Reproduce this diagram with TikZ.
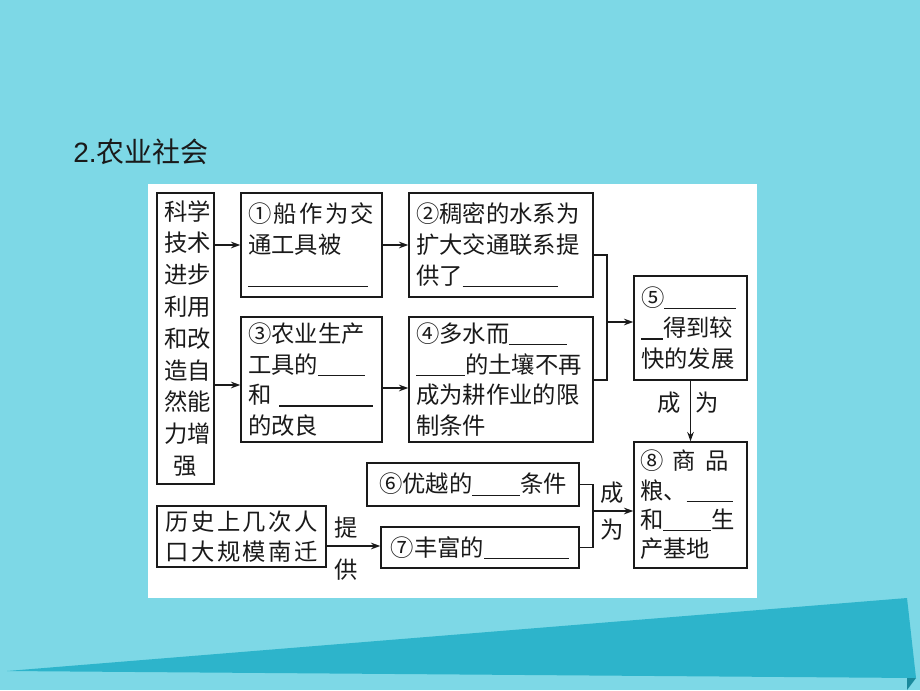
\documentclass[tikz,border=0pt]{standalone}
\usepackage{fontspec}
\setmainfont{Noto Sans CJK SC}
\newfontfamily\titlefont{Liberation Sans}
\usetikzlibrary{arrows.meta}
\newdimen\pxu \pxu=0.75pt
\newcommand{\bl}[1]{\rule[-0.12em]{#1\pxu}{0.9pt}}
\definecolor{bgcyan}{HTML}{7DD8E6}
\definecolor{teal1}{HTML}{2DB4CB}
\definecolor{teal2}{HTML}{1A8A9C}
\definecolor{ink}{HTML}{1A1A1A}
\tikzset{
  bx/.style={draw=ink, line width=1.1pt, inner xsep=7\pxu, inner ysep=0pt, align=left,
    font=\fontsize{17.5}{23}\selectfont, text=ink},
  lbl/.style={font=\fontsize{17.5}{23}\selectfont, text=ink, inner sep=0pt},
  arr/.style={draw=ink, line width=1pt, -{Stealth[length=7pt,width=5pt]}},
  ln/.style={draw=ink, line width=1pt}
}
\begin{document}
\begin{tikzpicture}[x=0.75pt, y=-0.75pt]
\useasboundingbox (0,0) rectangle (920,690);
\fill[bgcyan] (0,0) rectangle (920,690);
\fill[teal1] (7,671) -- (907,598) -- (916,678) -- cycle;
\fill[teal2] (907,678) -- (916,678) -- (907,690) -- cycle;
\node[anchor=west, inner sep=0pt, text=ink, font=\fontsize{21}{24}\selectfont] (title) at (73,152) {{\titlefont 2.}农业社会};
\fill[white] (148,184) rectangle (757,598);
% boxes
\node[bx, align=center, font=\fontsize{17.5}{23.85}\selectfont, minimum width=57\pxu, minimum height=291\pxu, text width=43\pxu] (L) at (185.5,338.5)
 {科学\\技术\\进步\\利用\\和改\\造自\\然能\\力增\\强};
\node[bx, minimum width=141\pxu, minimum height=104\pxu, text width=127\pxu] (B1) at (311.5,245)
 {{\addfontfeature{LetterSpace=10}①船作为交}\\通工具被\\\bl{120}};
\node[bx, minimum width=184\pxu, minimum height=104\pxu, text width=170\pxu] (B2) at (501,245)
 {②稠密的水系为\\扩大交通联系提\\供了\bl{95}};
\node[bx, minimum width=141\pxu, minimum height=125\pxu, text width=127\pxu] (B3) at (311.5,379.5)
 {③农业生产\\工具的\bl{47}\\和\hspace{8\pxu}\bl{94}\\的改良};
\node[bx, minimum width=184\pxu, minimum height=125\pxu, text width=170\pxu] (B4) at (501,379.5)
 {④多水而\bl{58}\\\bl{49}的土壤不再\\成为耕作业的限\\制条件};
\node[bx, minimum width=113\pxu, minimum height=104\pxu, text width=99\pxu] (B5) at (690.5,328)
 {⑤\bl{72}\\\bl{22}得到较\\快的发展};
\node[bx, font=\fontsize{17.5}{22}\selectfont, minimum width=113\pxu, minimum height=126\pxu, text width=101\pxu, inner xsep=6\pxu] (B8) at (690.5,505)
 {\mbox{⑧\hspace{7pt}商\hspace{7pt}品}\\\mbox{粮、\bl{46}}\\\mbox{和\bl{48}生}\\产基地};
\node[bx, align=center, minimum width=212\pxu, minimum height=43\pxu, text width=198\pxu] (B6) at (473,484.5)
 {⑥优越的\bl{48}条件};
\node[bx, align=center, minimum width=198\pxu, minimum height=41\pxu, text width=184\pxu] (B7) at (480,547.5)
 {⑦丰富的\bl{85}};
\node[bx, align=center, minimum width=169\pxu, minimum height=61\pxu, text width=155\pxu] (BH) at (241.5,536.5)
 {\addfontfeature{LetterSpace=10}历史上几次人\\口大规模南迁};
% connectors
\draw[arr] (L.east |- B1.west) -- (B1.west);
\draw[arr] (L.east |- 0,385) -- (B3.west |- 0,385);
\draw[arr] (B1.east) -- (B2.west);
\draw[arr] (B3.east |- 0,388) -- (B4.west |- 0,388);
\coordinate (j1) at (607,322);
\draw[ln] (B2.east |- 0,255) -- (j1 |- 0,255) -- (j1 |- 0,380) -- (B4.east |- 0,380);
\draw[arr] (j1) -- (B5.west |- j1);
\draw[arr] (B5.south) -- (B8.north);
\node[lbl] (c1) at (669,403) {成};
\node[lbl] (w1) at (707,403) {为};
\coordinate (j2) at (593,511);
\draw[ln] (B6.east) -- (j2 |- B6.east) -- (j2 |- B7.east) -- (B7.east);
\draw[arr] (j2) -- (B8.west |- j2);
\node[lbl] (c2) at (612,493) {成};
\node[lbl] (w2) at (612,530) {为};
\draw[arr] (BH.east |- 0,546) -- (B7.west |- 0,546);
\node[lbl] (t1) at (346,528) {提};
\node[lbl] (g1) at (346,570) {供};
\end{tikzpicture}
\end{document}
